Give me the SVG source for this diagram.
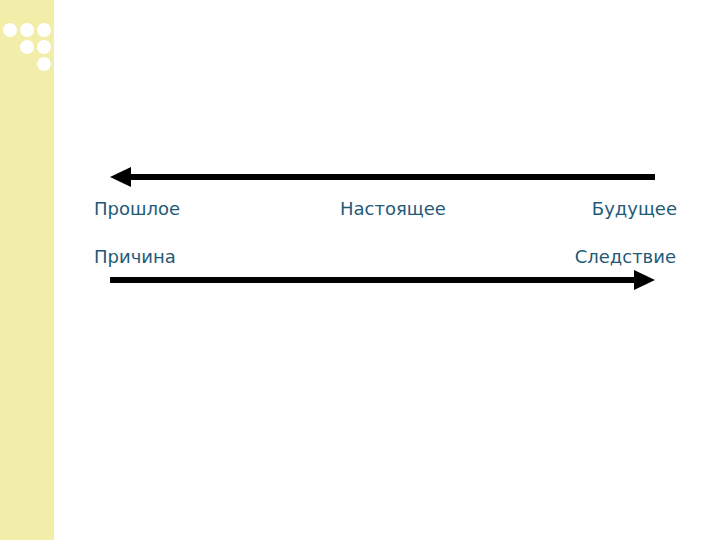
<svg xmlns="http://www.w3.org/2000/svg" width="720" height="540" viewBox="0 0 720 540">
<style>
.t{font-family:"DejaVu Sans",Verdana,sans-serif;font-size:18px;fill:#1F5A78}
.c{fill:#ffffff}
</style>
<rect width="720" height="540" fill="#ffffff"/>
<rect x="0" y="0" width="54" height="540" fill="#F2EDA8"/>
<g id="dots">
<circle class="c" cx="10" cy="30" r="7"/><circle class="c" cx="27" cy="30" r="7"/><circle class="c" cx="44" cy="30" r="7"/>
<circle class="c" cx="27" cy="47" r="7"/><circle class="c" cx="44" cy="47" r="7"/>
<circle class="c" cx="44" cy="64" r="7"/>
</g>
<g id="connectors">
<line x1="655" y1="177" x2="128" y2="177" stroke="#000" stroke-width="6"/>
<polygon points="110,177 131,167 131,187" fill="#000"/>
<line x1="110" y1="280" x2="637" y2="280" stroke="#000" stroke-width="6"/>
<polygon points="655,280 634,270 634,290" fill="#000"/>
</g>
<g id="past"><text class="t" x="94" y="215">Прошлое</text></g>
<g id="present"><text class="t" x="340" y="215">Настоящее</text></g>
<g id="future"><text class="t" x="677" y="215" text-anchor="end">Будущее</text></g>
<g id="cause"><text class="t" x="94" y="263">Причина</text></g>
<g id="effect"><text class="t" x="676" y="263" text-anchor="end">Следствие</text></g>
</svg>
